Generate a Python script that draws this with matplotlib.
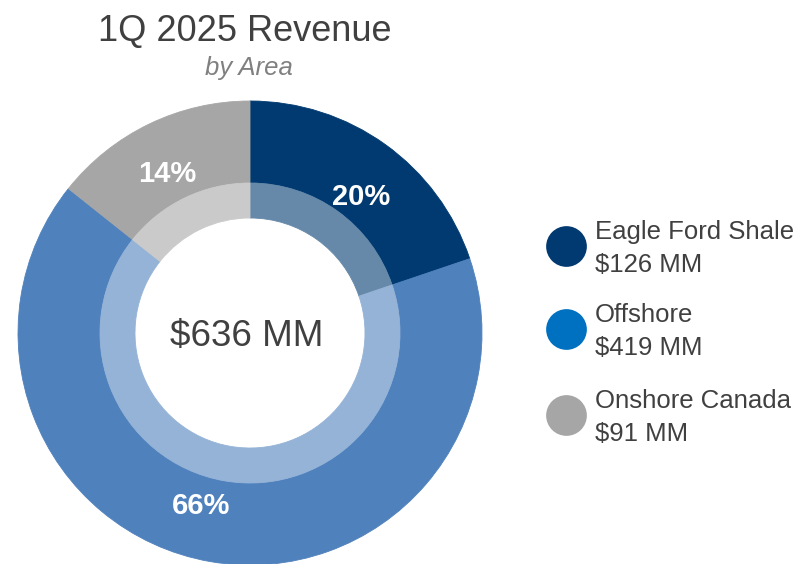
import numpy as np
import matplotlib
matplotlib.use("Agg")
import matplotlib.pyplot as plt
from matplotlib.colors import to_rgb

plt.rcParams["font.family"] = ["Liberation Sans", "DejaVu Sans"]

# data
areas = ["Eagle Ford Shale", "Offshore", "Onshore Canada"]
revenue_mm = [126, 419, 91]
pct_labels = ["20%", "66%", "14%"]
total_label = "$636 MM"

RING = ["#003A70", "#4F81BD", "#A6A6A6"]
DOTS = ["#003A70", "#0070C0", "#A6A6A6"]
GREY_TXT = "#404040"
# nudges (px) for the percentage labels, like the hand-placed ones in the original
LABEL_NUDGE = [(7, -9), (-18, 3), (-5, -2)]


def lighten(c, a=0.4):
    r = np.array(to_rgb(c))
    return tuple(r * (1 - a) + a)


W, H = 801, 564
fig = plt.figure(figsize=(W / 100, H / 100), dpi=100)
ax = fig.add_axes([0, 0, 1, 1])

cx, cy = 250, H - 333
R_OUT, R_MID, R_IN = 232, 150, 115

wedges, _, autotexts = ax.pie(
    revenue_mm, radius=R_OUT, center=(cx, cy), startangle=90, counterclock=False,
    colors=RING, wedgeprops=dict(width=R_OUT - R_MID, linewidth=0.6),
    autopct=lambda p: f"{p:.0f}%", pctdistance=0.77,
    textprops=dict(color="white", fontsize=21, fontweight="bold"))
inner, _ = ax.pie(revenue_mm, radius=R_MID, center=(cx, cy), startangle=90, counterclock=False,
                  colors=[lighten(c) for c in RING],
                  wedgeprops=dict(width=R_MID - R_IN, linewidth=0.6))
for w in list(wedges) + list(inner):
    w.set_edgecolor(w.get_facecolor())
for t, s, (dx, dy) in zip(autotexts, pct_labels, LABEL_NUDGE):
    t.set_text(s)
    x, y = t.get_position()
    t.set_position((x + dx, y + dy))

ax.text(cx - 3, cy - 4, total_label, ha="center", va="center", fontsize=26.5, color=GREY_TXT)

ax.text(245, H - 31, "1Q 2025 Revenue", ha="center", va="center", fontsize=26, color=GREY_TXT)
ax.text(249, H - 68, "by Area", ha="center", va="center", fontsize=18.5, color="#808080",
        style="italic")

# legend
rows_y = [246, 329, 415]
for name, val, col, y in zip(areas, revenue_mm, DOTS, rows_y):
    ax.scatter([566], [H - y], s=860, color=col, linewidths=0, zorder=5)
    ax.text(595, H - (y - 14), name, ha="left", va="center", fontsize=18.5, color=GREY_TXT)
    ax.text(595, H - (y + 19), f"${val} MM", ha="left", va="center", fontsize=18.5,
            color=GREY_TXT)

ax.set_xlim(0, W)
ax.set_ylim(0, H)
ax.set_aspect("equal")
ax.axis("off")

fig.savefig("out.png", dpi=100)
